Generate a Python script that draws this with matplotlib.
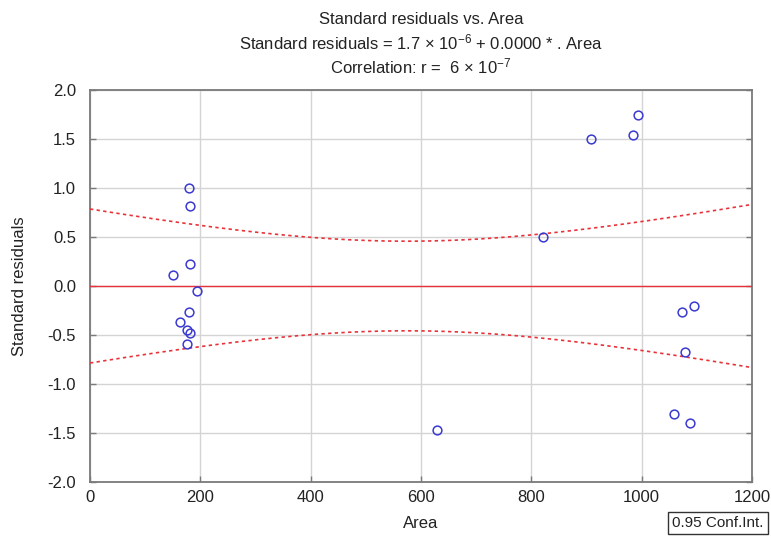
import numpy as np
import matplotlib
matplotlib.use("Agg")
import matplotlib.pyplot as plt

plt.rcParams['font.family'] = ['Liberation Sans', 'DejaVu Sans']
plt.rcParams['mathtext.fontset'] = 'custom'
plt.rcParams['mathtext.rm'] = 'Liberation Sans'
plt.rcParams['mathtext.it'] = 'Liberation Sans'

area = [180, 181, 181, 151, 194, 179, 163, 176, 181, 176,
        821, 908, 985, 994, 629, 1074, 1095, 1078, 1059, 1088]
std_resid = [1.00, 0.82, 0.22, 0.11, -0.05, -0.27, -0.37, -0.45, -0.48, -0.59,
             0.50, 1.50, 1.54, 1.745, -1.47, -0.27, -0.20, -0.67, -1.31, -1.40]
intercept = 1.7e-6
slope = 0.0
conf_level = 0.95
t_crit = 2.101  # t(0.975, df=18)

x_ticks = [0, 200, 400, 600, 800, 1000, 1200]
y_ticks = [-2.0, -1.5, -1.0, -0.5, 0.0, 0.5, 1.0, 1.5, 2.0]

x = np.array(area, float)
y = np.array(std_resid, float)
n = len(x)
xbar = x.mean()
sxx = ((x - xbar) ** 2).sum()
s = np.sqrt(((y - (intercept + slope * x)) ** 2).sum() / (n - 2))

fig = plt.figure(figsize=(7.71, 5.38), dpi=100)
ax = fig.add_axes([90/771, 1 - 482/538, 662/771, 392/538])

xx = np.linspace(0, 1200, 300)
yy = intercept + slope * xx
half = t_crit * s * np.sqrt(1.0 / n + (xx - xbar) ** 2 / sxx)

red = '#e8323a'
ax.plot(xx, yy, color=red, lw=1.0, zorder=3)
ax.plot(xx, yy + half, color=red, lw=1.2, ls=(0, (2, 2)), zorder=3)
ax.plot(xx, yy - half, color=red, lw=1.2, ls=(0, (2, 2)), zorder=3)
ax.plot(x, y, ls='none', marker='o', ms=6.3, mfc='none', mec='#3a3ad0', mew=1.1, zorder=4)

ax.set_xlim(0, 1200)
ax.set_ylim(-2.0, 2.0)
ax.set_xticks(x_ticks)
ax.set_xticklabels([str(v) for v in x_ticks])
ax.set_yticks(y_ticks)
ax.set_yticklabels([f"{v:.1f}" for v in y_ticks])
ax.grid(True, color='#d4d4d4', lw=1.0)
ax.set_axisbelow(True)
for sp in ax.spines.values():
    sp.set_color('#7a7a7a')
    sp.set_linewidth(1.3)
ax.tick_params(direction='in', length=4, width=1, color='#7a7a7a',
               labelsize=12, right=True, top=False)
ax.tick_params(axis='x', pad=6)
ax.tick_params(axis='y', pad=10)
for lab in ax.get_xticklabels() + ax.get_yticklabels():
    lab.set_color('#222222')

fig.text(421/771, 1 - 524/538, 'Area', ha='center', va='center', fontsize=12, color='#222222')
fig.text(20/771, 1 - 286/538, 'Standard residuals', ha='center', va='center', rotation=90,
         fontsize=12, color='#222222')

cx = 421 / 771
fig.text(cx, 1 - 19/538, 'Standard residuals vs. Area', ha='center', va='center', fontsize=12, color='#222222')
fig.text(cx, 1 - 42/538, r'Standard residuals = 1.7 × 10$^{-6}$ + 0.0000 * . Area',
         ha='center', va='center', fontsize=12, color='#222222')
fig.text(cx, 1 - 66/538, r'Correlation: r =  6 × 10$^{-7}$', ha='center', va='center',
         fontsize=12, color='#222222')

fig.text(718/771, 1 - 523/538, '0.95 Conf.Int.', ha='center', va='center', fontsize=11,
         color='#222222',
         bbox=dict(boxstyle='square,pad=0.25', fc='white', ec='#333333', lw=1))

fig.savefig('out.png', dpi=100)
